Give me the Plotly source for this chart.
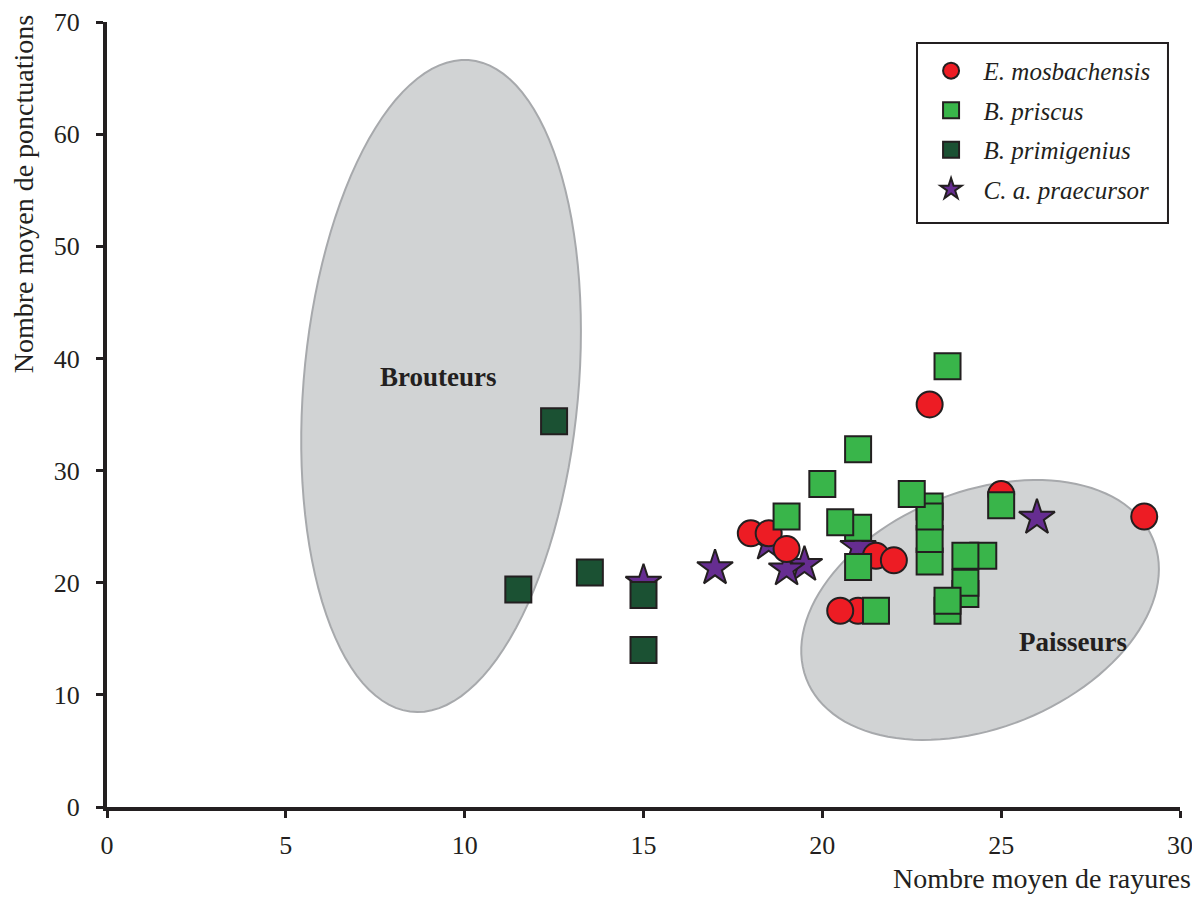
import numpy as np
import plotly.graph_objects as go

# ---------------- data ----------------
emos_x = [18, 18.5, 19, 21, 20.5, 21.5, 22, 23, 25, 29]
emos_y = [24.4, 24.4, 23.0, 17.5, 17.5, 22.4, 22.0, 35.9, 27.9, 25.9]

bpris_x = [23.5, 21, 20, 19, 21, 20.5, 21, 21.5, 23, 23, 23, 23, 22.5, 24.5, 24, 24, 24, 23.5, 23.5, 25]
bpris_y = [39.3, 31.9, 28.8, 25.9, 24.9, 25.4, 21.4, 17.5, 21.9, 23.9, 26.8, 25.9, 27.9, 22.4, 22.4, 19.0, 20.0, 17.5, 18.4, 26.9]

bprim_x = [12.5, 11.5, 13.5, 15, 15]
bprim_y = [34.4, 19.4, 20.9, 18.9, 14.0]

capr_x = [15, 17, 18.5, 19.5, 19, 21, 26]
capr_y = [20.0, 21.3, 23.5, 21.6, 21.2, 23.2, 25.8]

series_names = ["E. mosbachensis", "B. priscus", "B. primigenius", "C. a. praecursor"]

x_ticks = [0, 5, 10, 15, 20, 25, 30]
y_ticks = [0, 10, 20, 30, 40, 50, 60, 70]

# Ellipse regions: center, and conjugate half-axis vectors (data units)
brout_center = (9.34, 37.54)
brout_u = (3.91, 4.89)
brout_v = (0.0, -28.66)
paiss_center = (24.41, 17.57)
paiss_u = (5.00, 3.64)
paiss_v = (0.0, -11.0)

brout_label = ("Brouteurs", 9.26, 38.3)
paiss_label = ("Paisseurs", 27.0, 14.75)

# ---------------- style ----------------
DARK = "#231F20"
FONT = "Liberation Serif"
RED = "#ED1C24"
GREEN = "#39B54A"
DGREEN = "#1B5133"
PURPLE = "#662D91"


def ellipse_path(c, u, v, n=120):
    t = np.linspace(0, 2 * np.pi, n)
    xs = c[0] + u[0] * np.cos(t) + v[0] * np.sin(t)
    ys = c[1] + u[1] * np.cos(t) + v[1] * np.sin(t)
    p = "M {:.4f},{:.4f}".format(xs[0], ys[0])
    for a, b in zip(xs[1:], ys[1:]):
        p += " L {:.4f},{:.4f}".format(a, b)
    return p + " Z"


fig = go.Figure()

mline = dict(color=DARK, width=2)
pad = "&nbsp;&nbsp;"

fig.add_trace(go.Scatter(
    x=capr_x, y=capr_y, mode="markers", name=pad + "<i>" + series_names[3] + "</i>",
    legendrank=4, legendgroup="d",
    marker=dict(symbol="star", size=27, color=PURPLE, line=mline)))
fig.add_trace(go.Scatter(
    x=emos_x, y=emos_y, mode="markers", name=pad + "<i>" + series_names[0] + "</i>",
    legendrank=1, legendgroup="a",
    marker=dict(symbol="circle", size=26, color=RED, line=mline)))
fig.add_trace(go.Scatter(
    x=bpris_x, y=bpris_y, mode="markers", name=pad + "<i>" + series_names[1] + "</i>",
    legendrank=2, legendgroup="b",
    marker=dict(symbol="square", size=26, color=GREEN, line=mline)))
fig.add_trace(go.Scatter(
    x=bprim_x, y=bprim_y, mode="markers", name=pad + "<i>" + series_names[2] + "</i>",
    legendrank=3, legendgroup="c",
    marker=dict(symbol="square", size=26, color=DGREEN, line=mline)))

shapes = []
for c, u, v in [(brout_center, brout_u, brout_v), (paiss_center, paiss_u, paiss_v)]:
    shapes.append(dict(type="path", xref="x", yref="y", path=ellipse_path(c, u, v),
                       fillcolor="#D1D3D4", line=dict(color="#A7A9AC", width=2),
                       layer="below"))
# legend frame
shapes.append(dict(type="rect", xref="paper", yref="paper",
                   x0=0.7549, x1=0.9888, y0=0.7439, y1=0.9732,
                   fillcolor="white", line=dict(color=DARK, width=2), layer="above"))

annotations = []
for txt, ax, ay in [brout_label, paiss_label]:
    annotations.append(dict(x=ax, y=ay, xref="x", yref="y", text="<b>" + txt + "</b>",
                            showarrow=False, font=dict(family=FONT, size=27, color=DARK)))

annotations.append(dict(x=1.012, y=-0.091, xref="paper", yref="paper",
                        text="Nombre moyen de rayures", showarrow=False,
                        xanchor="right", yanchor="middle",
                        font=dict(family=FONT, size=28, color=DARK)))
annotations.append(dict(x=-0.077, y=0.781, xref="paper", yref="paper",
                        text="Nombre moyen de ponctuations", showarrow=False,
                        textangle=-90, xanchor="center", yanchor="middle",
                        font=dict(family=FONT, size=28, color=DARK)))

axis_common = dict(showline=True, linecolor=DARK, linewidth=4, showgrid=False,
                   zeroline=False, ticks="outside", ticklen=7, tickwidth=3,
                   tickcolor=DARK, tickfont=dict(family=FONT, size=26, color=DARK),
                   automargin=False)

# page body adds an 8px offset; margins compensate
fig.update_layout(
    width=1200, height=900,
    margin=dict(l=99, r=28, t=14, b=101, autoexpand=False),
    paper_bgcolor="white", plot_bgcolor="white",
    font=dict(family=FONT, color=DARK),
    xaxis=dict(range=[0, 30], tickvals=x_ticks, ticklabelstandoff=5, **axis_common),
    yaxis=dict(range=[0, 70], tickvals=y_ticks, ticklabelstandoff=11, **axis_common),
    shapes=shapes, annotations=annotations,
    showlegend=True,
    legend=dict(x=0.768, y=0.967, xanchor="left", yanchor="top",
                borderwidth=0, bgcolor="rgba(0,0,0,0)",
                font=dict(family=FONT, size=25, color=DARK),
                tracegroupgap=4, itemsizing="trace"),
)

fig.write_html("out.html")
